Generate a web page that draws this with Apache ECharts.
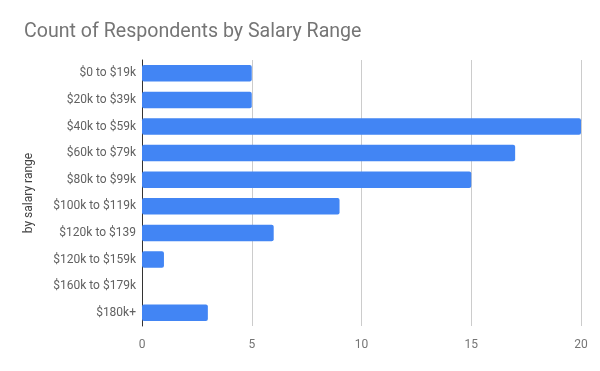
<!DOCTYPE html>
<html><head><meta charset="utf-8">
<script src="https://cdn.jsdelivr.net/npm/echarts@6/dist/echarts.min.js"></script>
<style>html,body{margin:0;padding:0;background:#fff}#c{width:600px;height:371px}</style>
</head><body><div id="c"></div>
<script>
const categories = ["$0 to $19k","$20k to $39k","$40k to $59k","$60k to $79k","$80k to $99k","$100k to $119k","$120k to $139","$120k to $159k","$160k to $179k","$180k+"];
const counts = [5,5,20,17,15,9,6,1,0,3];
const xTicks = [0,5,10,15,20];

const chart = echarts.init(document.getElementById('c'), null, {renderer:'canvas'});
chart.setOption({
  animation:false,
  textStyle:{fontFamily:'Roboto'},
  title:{text:'Count of Respondents by Salary Range', left:19, top:17,
    textStyle:{fontFamily:'Roboto', fontSize:19.6, fontWeight:'normal', color:'#757575'}},
  grid:{left:142, right:19, top:60, bottom:45, containLabel:false},
  xAxis:{type:'value', min:xTicks[0], max:xTicks[xTicks.length-1], interval:5,
    axisLine:{show:false}, axisTick:{show:false},
    axisLabel:{color:'#757575', fontSize:12, margin:13, fontFamily:'Roboto'},
    splitLine:{lineStyle:{color:'#cccccc'}}},
  yAxis:{type:'category', data:categories, inverse:true,
    name:'by salary range', nameLocation:'middle', nameGap:107, nameRotate:90,
    nameTextStyle:{color:'#424242', fontSize:12, fontFamily:'Roboto'},
    axisLine:{lineStyle:{color:'#333333'}}, axisTick:{show:false},
    axisLabel:{color:'#616161', fontSize:12, margin:6, fontFamily:'Roboto'}},
  series:[{type:'bar', data:counts, barWidth:'62%', itemStyle:{color:'#4285F4', borderRadius:2}}]
});
</script></body></html>
